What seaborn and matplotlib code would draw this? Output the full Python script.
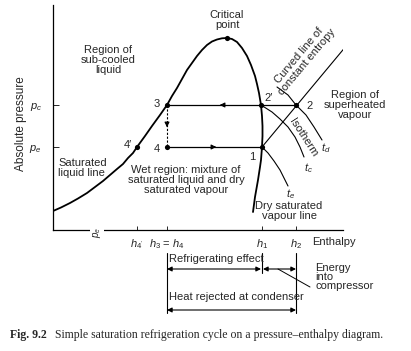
import matplotlib
matplotlib.use('Agg')
import matplotlib.pyplot as plt
import seaborn as sns

sns.set_theme(style="ticks")
plt.rcParams['font.family'] = ['Liberation Sans', 'DejaVu Sans']
plt.rcParams['mathtext.fontset'] = 'custom'
plt.rcParams['mathtext.it'] = 'Liberation Sans:italic'
plt.rcParams['mathtext.rm'] = 'Liberation Sans'

# saturation dome (enthalpy, pressure), arbitrary units
dome_h = [0, 8, 17, 25, 34, 42, 50, 57, 64, 70, 75, 80, 84, 92, 99, 107, 114,
          119, 124, 129, 134, 139, 144, 149, 154, 159, 164, 169, 174, 179, 184,
          189, 194, 198, 202, 204, 206, 208, 209, 209.5, 209.5, 209, 208, 207,
          205, 202, 200]
dome_p = [19, 22.5, 27, 31.5, 37, 43, 49, 55, 61, 66, 72, 77, 83, 94, 104, 115, 125,
          134, 142, 151, 160, 167, 174, 180, 185, 188.5, 190.5, 191.7, 192, 191, 188,
          182, 174, 165, 154, 146, 137, 125, 114, 104, 94, 83, 70, 63,
          50, 33, 18]

# isotherms in the superheated region
td_h = [224, 235, 243, 253, 261, 269]
td_p = [143, 135, 125, 115, 103, 90]
tc_h = [208, 219, 227, 235, 242, 247, 251]
tc_p = [125, 118, 111, 103, 93, 83, 73]
te_h = [209, 215, 221, 227, 231, 235]
te_p = [83, 77, 69, 60, 52, 44]

# constant entropy line 1 -> 2 and beyond
ent_h = [209, 299]
ent_p = [83, 191]

# cycle state points
state_names = ["1", "2", "2'", "3", "4", "4'", "crit"]
state_h = [209, 243, 208, 114, 114, 84, 174]
state_p = [83, 125, 125, 125, 83, 83, 192]

p_c, p_e = 125, 83
h_4p, h_3, h_1, h_2 = 84, 114, 209, 243
xtick_labels = ["$h_{4'}$", "$h_3$ = $h_4$", "$h_1$", "$h_2$"]
ytick_labels = ["$p_e$", "$p_c$"]

fig = plt.figure(figsize=(4.11, 3.51), dpi=100)
ax = fig.add_axes([53 / 411, 121 / 351, 290 / 411, 225 / 351])
ax.set_xlim(0, 290)
ax.set_ylim(0, 225)
for s in ["top", "right"]:
    ax.spines[s].set_visible(False)
for s in ["left", "bottom"]:
    ax.spines[s].set_linewidth(0.9)
    ax.spines[s].set_color("black")

ax.set_xticks([h_4p, h_3, h_1, h_2], xtick_labels)
ax.set_yticks([p_e, p_c], ytick_labels)
ax.tick_params(axis="x", direction="in", length=3, width=0.7, labelsize=8, pad=5)
ax.tick_params(axis="y", direction="in", length=4, width=0.7, labelsize=8, pad=8)
ax.set_ylabel("Absolute pressure", fontsize=8.5)
ax.yaxis.set_label_coords(-26 / 290, 106 / 225)

line_kw = dict(color="black", sort=False, estimator=None, ax=ax, legend=False)
sns.lineplot(x=dome_h, y=dome_p, lw=1.3, **line_kw)
sns.lineplot(x=td_h, y=td_p, lw=0.8, **line_kw)
sns.lineplot(x=tc_h, y=tc_p, lw=0.8, **line_kw)
sns.lineplot(x=te_h, y=te_p, lw=0.8, **line_kw)
sns.lineplot(x=ent_h, y=ent_p, lw=0.8, **line_kw)

# cycle lines
ax.plot([h_3, h_2], [p_c, p_c], color="black", lw=0.9)
ax.plot([h_3, h_1], [p_e, p_e], color="black", lw=0.9)
ax.plot([h_3, h_3], [p_c, p_e], color="black", lw=0.8, ls=(0, (2, 1.5)))
arr = dict(arrowstyle="-|>", color="black", lw=0.8, mutation_scale=7)
ax.annotate("", xy=(164, p_c), xytext=(172, p_c), arrowprops=arr)
ax.annotate("", xy=(166, p_e), xytext=(158, p_e), arrowprops=arr)
ax.annotate("", xy=(h_3, 100), xytext=(h_3, 108), arrowprops=arr)

sns.scatterplot(x=state_h, y=state_p, color="black", s=14, linewidth=0, ax=ax, zorder=5)

fs = 8
ax.text(55, 170, "Region of\nsub-cooled\nliquid", ha="center", va="center", fontsize=fs, linespacing=1.05)
ax.text(174, 210, "Critical\npoint", ha="center", va="center", fontsize=fs, linespacing=1.05)
ax.text(302, 125, "Region of\nsuperheated\nvapour", ha="center", va="center", fontsize=fs,
        linespacing=1.05, clip_on=False)
ax.text(5, 62, "Saturated\nliquid line", ha="left", va="center", fontsize=fs, linespacing=1.05)
ax.text(133, 50, "Wet region: mixture of\nsaturated liquid and dry\nsaturated vapour",
        ha="center", va="center", fontsize=fs, linespacing=1.05)
ax.text(236, 19, "Dry saturated\nvapour line", ha="center", va="center", fontsize=fs, linespacing=1.05)
ax.text(250, 171, "Curved line of\nconstant entropy", ha="center", va="center", fontsize=fs,
        rotation=50, linespacing=0.95)
ax.text(250, 92, "Isotherm", ha="center", va="center", fontsize=fs, rotation=-57)

pt_labels = [("3", 104, 126), ("4", 104, 81), ("4\u2032", 75, 85), ("2\u2032", 216, 132),
             ("2", 257, 124), ("1", 199, 73)]
for t, x, y in pt_labels:
    ax.text(x, y, t, ha="center", va="center", fontsize=fs)
ax.text(273, 82, "$t_d$", ha="center", va="center", fontsize=fs)
ax.text(255, 62, "$t_c$", ha="center", va="center", fontsize=fs)
ax.text(238, 36, "$t_e$", ha="center", va="center", fontsize=fs)

ax.text(259, -12, "Enthalpy", ha="left", va="center", fontsize=fs, clip_on=False)
ax.text(44, -2, "$p_e$", ha="center", va="center", fontsize=7, rotation=90, clip_on=False,
        bbox=dict(facecolor="white", edgecolor="none", pad=0.5))

# energy brackets below the axis
for x, y0, y1 in [(h_3, -23, -83), (h_1, -23, -43), (h_2, -23, -83)]:
    ax.plot([x, x], [y0, y1], color="black", lw=0.8, clip_on=False)
darr = dict(arrowstyle="<|-|>", color="black", lw=0.8, mutation_scale=7, shrinkA=0, shrinkB=0)
ax.annotate("", xy=(h_3, -39), xytext=(h_1 - 1, -39), arrowprops=darr, annotation_clip=False)
ax.annotate("", xy=(h_1 + 1, -39), xytext=(h_2, -39), arrowprops=darr, annotation_clip=False)
ax.annotate("", xy=(h_3, -80), xytext=(h_2, -80), arrowprops=darr, annotation_clip=False)
ax.plot([225, 257], [-39, -57], color="black", lw=0.7, clip_on=False)
ax.text(116, -29, "Refrigerating effect", ha="left", va="center", fontsize=fs, clip_on=False)
ax.text(116, -67, "Heat rejected at condenser", ha="left", va="center", fontsize=fs, clip_on=False)
ax.text(262, -47, "Energy\ninto\ncompressor", ha="left", va="center", fontsize=fs,
        linespacing=0.85, clip_on=False)

fig.text(10 / 411, 1 - 335 / 351, "Fig. 9.2", fontsize=8.5, fontweight="bold",
         family="Liberation Serif", va="center")
fig.text(55 / 411, 1 - 335 / 351,
         "Simple saturation refrigeration cycle on a pressure\u2013enthalpy diagram.",
         fontsize=8.5, family="Liberation Serif", va="center")

fig.savefig("out.png", dpi=100)
